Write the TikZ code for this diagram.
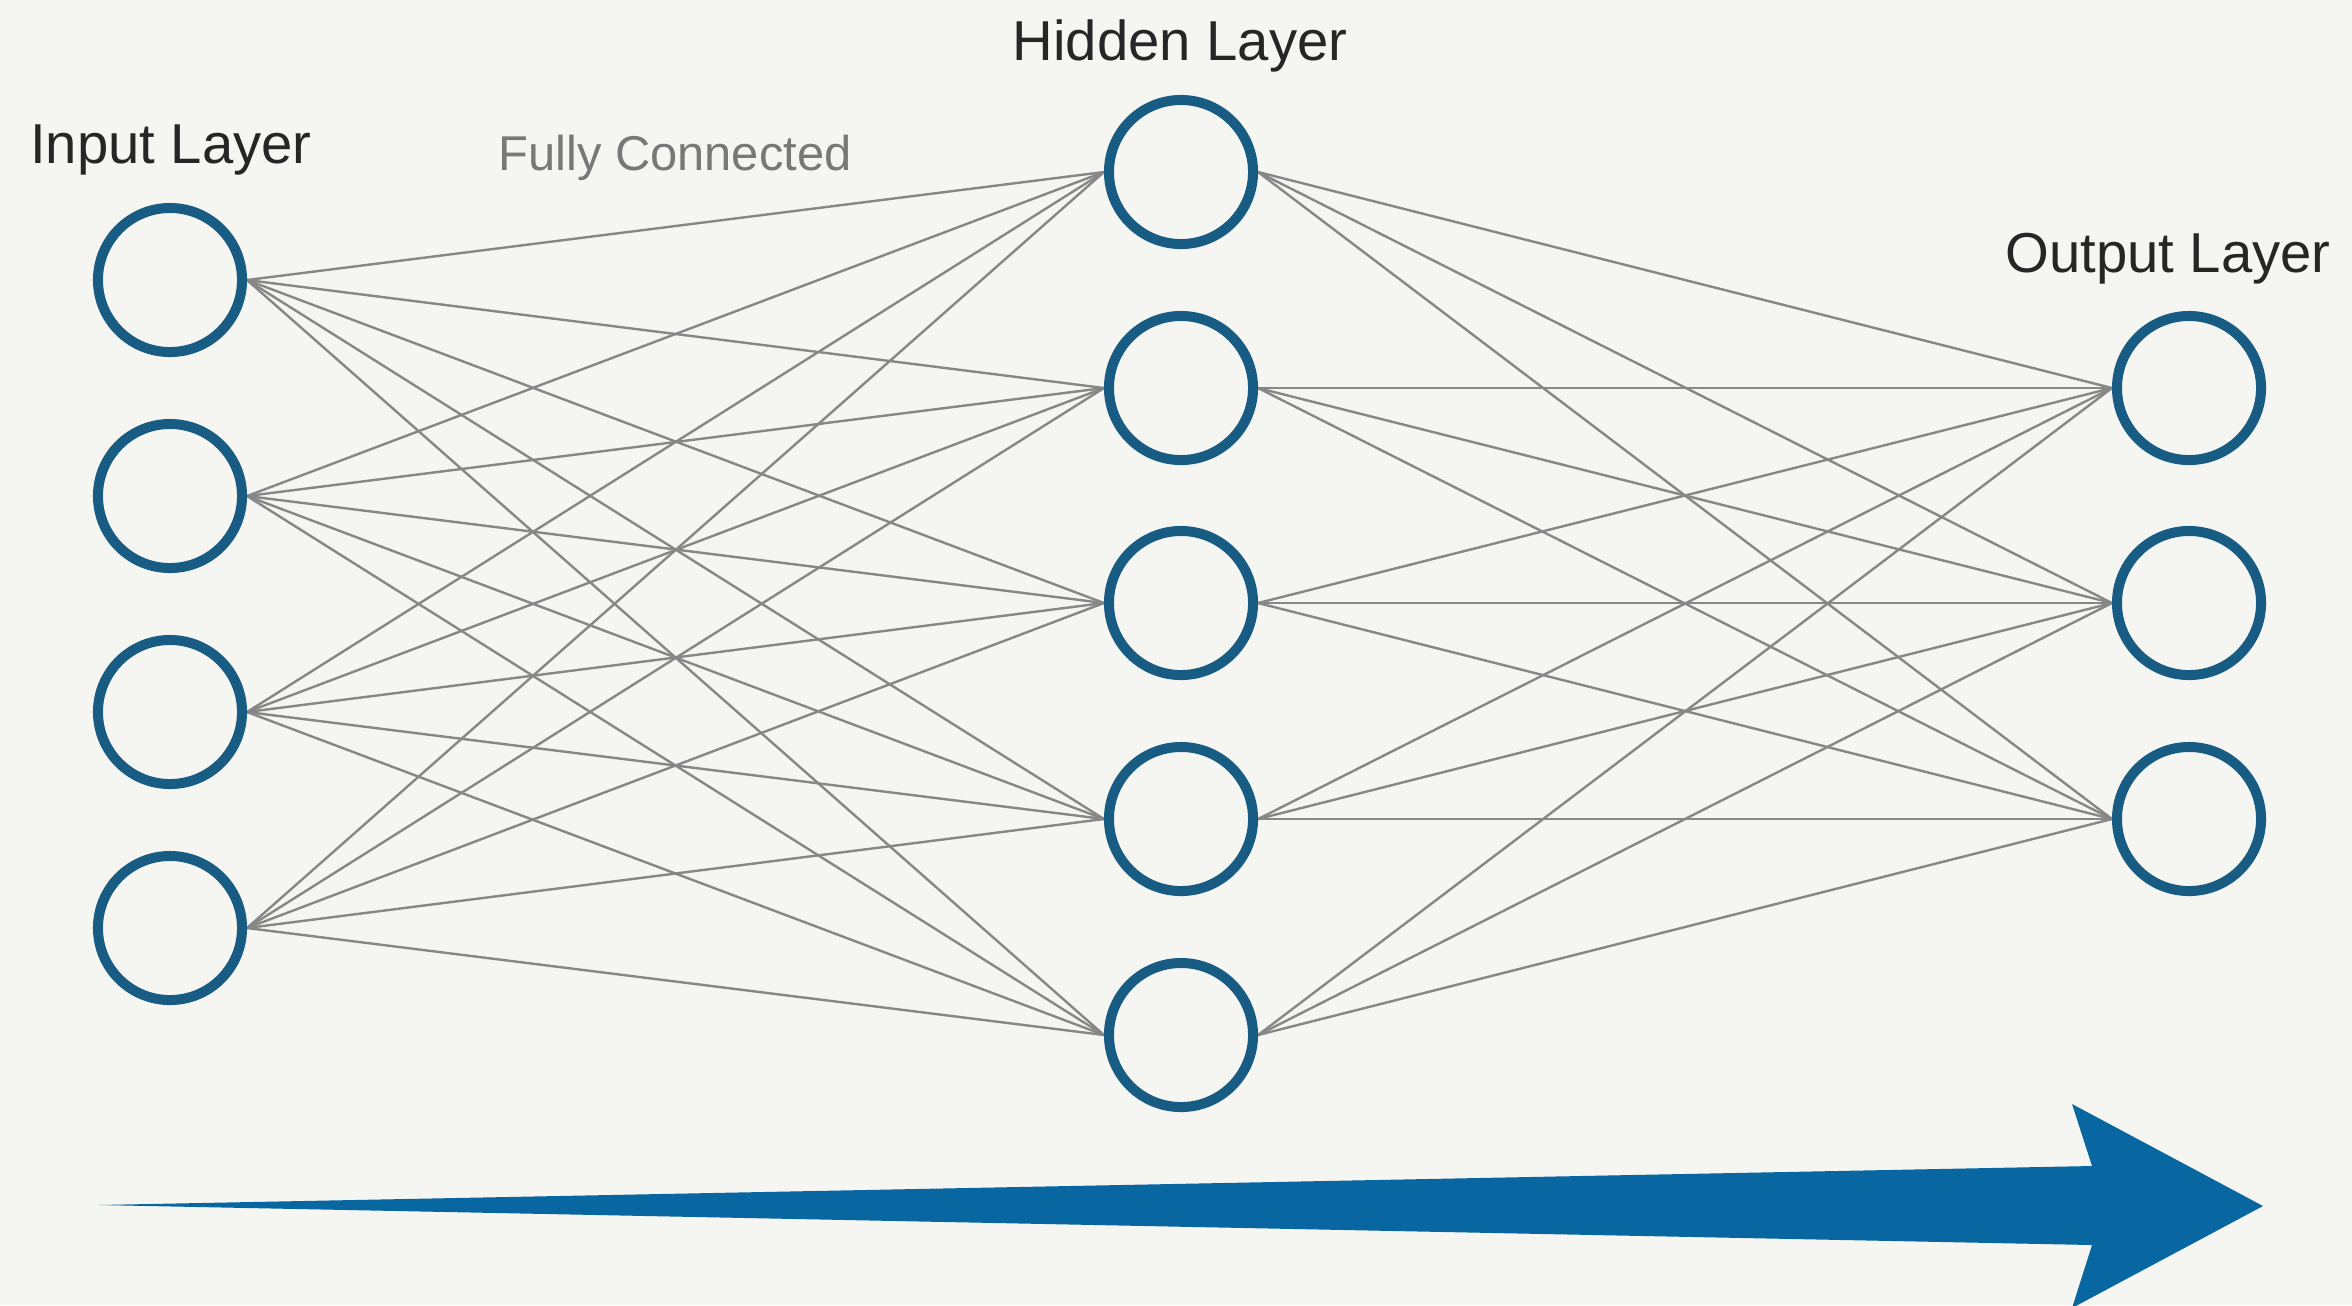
\documentclass[tikz,border=0pt]{standalone}
\usepackage{fontspec}
\setmainfont{Liberation Sans}
\definecolor{bg}{RGB}{245,245,241}
\definecolor{ring}{RGB}{24,92,132}
\definecolor{arrowblue}{RGB}{8,102,160}
\definecolor{edgegray}{RGB}{135,135,135}
\definecolor{subtle}{RGB}{120,120,120}
\pgfdeclarelayer{backdrop}
\pgfdeclarelayer{edges}
\pgfsetlayers{backdrop,edges,main}
\begin{document}
\begin{tikzpicture}[x=0.01cm,y=-0.01cm,
  neuron/.style={circle,draw=ring,fill=bg,line width=0.1cm,minimum size=1.44cm,inner sep=0pt},
  conn/.style={draw=edgegray,line width=0.024cm},
  layerlabel/.style={font=\fontsize{16}{18}\selectfont,text=black!85,anchor=base,inner sep=0pt},
  sublabel/.style={font=\fontsize{13.9}{16}\selectfont,text=subtle,anchor=base,inner sep=0pt}]
  \begin{pgfonlayer}{backdrop}
    \fill[bg] (0,0) rectangle (2352,1305);
  \end{pgfonlayer}
  \useasboundingbox (0,0) rectangle (2352,1305);
  % neurons
  \foreach \k/\y in {1/280,2/496,3/712,4/928}
    \node[neuron] (i\k) at (170,\y) {};
  \foreach \k/\y in {1/172,2/388,3/603,4/819,5/1035}
    \node[neuron] (h\k) at (1181,\y) {};
  \foreach \k/\y in {1/388,2/603,3/819}
    \node[neuron] (o\k) at (2189,\y) {};
  % connections
  \begin{pgfonlayer}{edges}
    \foreach \a in {1,...,4}
      \foreach \b in {1,...,5}
        \draw[conn] (i\a.east) -- (h\b.west);
    \foreach \a in {1,...,5}
      \foreach \b in {1,...,3}
        \draw[conn] (h\a.east) -- (o\b.west);
  \end{pgfonlayer}
  % labels
  \node[layerlabel] (lin) at (171,163) {Input Layer};
  \node[layerlabel] (lhid) at (1180,60) {Hidden Layer};
  \node[layerlabel] (lout) at (2168,272) {Output Layer};
  \node[sublabel] (lfc) at (675,170) {Fully Connected};
  % flow arrow
  \coordinate (atail) at (98,1205);
  \coordinate (atip) at (2263,1206);
  \fill[arrowblue] (atail) -- (2092,1166) -- (2072,1104) -- (atip)
    -- (2072,1308) -- (2092,1245) -- cycle;
\end{tikzpicture}
\end{document}
